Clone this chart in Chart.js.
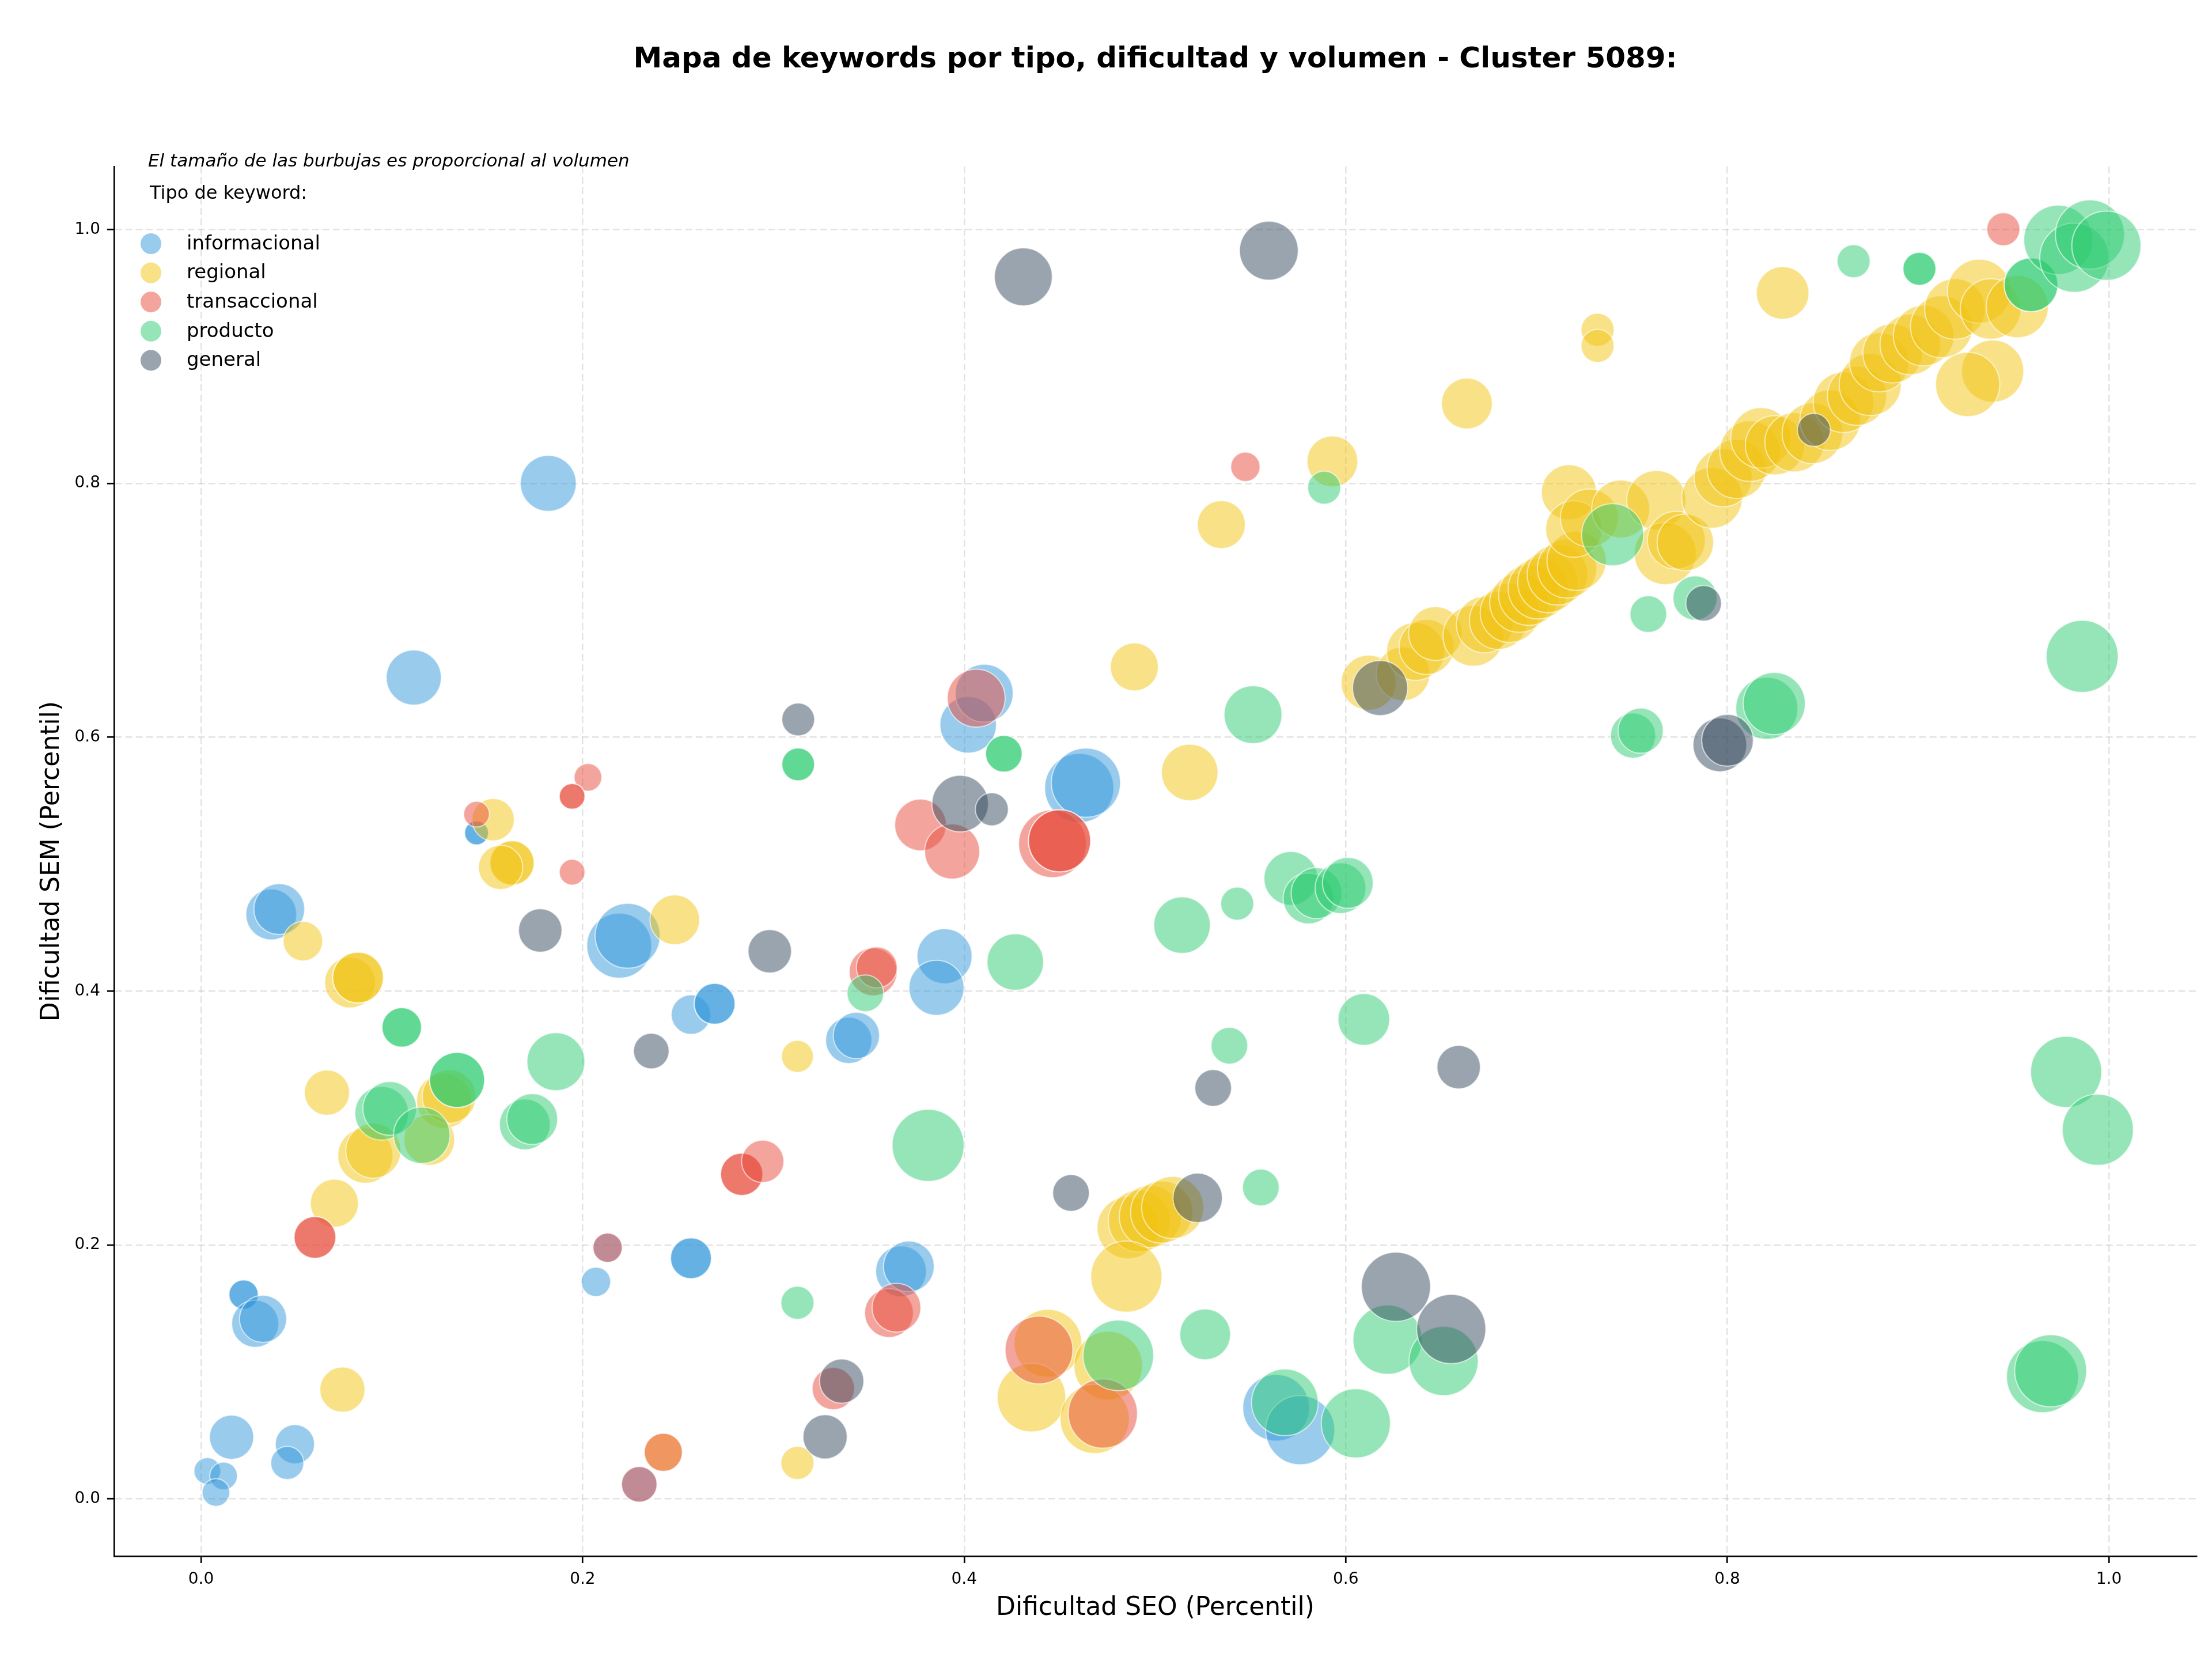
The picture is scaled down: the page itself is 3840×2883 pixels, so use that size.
<!DOCTYPE html>
<html>
<head>
<meta charset="utf-8">
<title>Mapa de keywords - Cluster 5089</title>
<script src="https://cdn.jsdelivr.net/npm/chart.js@4.4.1/dist/chart.umd.min.js"></script>
<style>
  html, body { margin: 0; padding: 0; background: #fff; }
  canvas { display: block; }
</style>
</head>
<body>
<canvas id="grafico" width="3840" height="2883"></canvas>
<script>
// Mapa de keywords: dificultad SEO vs SEM, burbuja = volumen

const titulo = 'Mapa de keywords por tipo, dificultad y volumen - Cluster 5089:';
const nota = 'El tamaño de las burbujas es proporcional al volumen';
const tituloLeyenda = 'Tipo de keyword:';
const ejeX = 'Dificultad SEO (Percentil)';
const ejeY = 'Dificultad SEM (Percentil)';

const tipos = ['informacional', 'regional', 'transaccional', 'producto', 'general'];
const colores = ['#3498db', '#f1c40f', '#e74c3c', '#2ecc71', '#34495e'];

const xTicks = [0.0, 0.2, 0.4, 0.6, 0.8, 1.0];
const yTicks = [0.0, 0.2, 0.4, 0.6, 0.8, 1.0];

// [dificultad SEO, dificultad SEM, volumen]
const informacional = [
    [0.182, 0.800, 3920], [0.1115, 0.647, 3800],
    [0.1444, 0.5246, 720], [0.1444, 0.5246, 720],
    [0.0368, 0.4604, 3240], [0.041, 0.4646, 3240],
    [0.2192, 0.4358, 5290], [0.2236, 0.4436, 5290],
    [0.2568, 0.3815, 1960], [0.2692, 0.390, 2100], [0.2692, 0.390, 2100],
    [0.0223, 0.161, 1080], [0.0223, 0.161, 1080],
    [0.0284, 0.138, 2790], [0.0325, 0.1418, 2790],
    [0.016, 0.0486, 2460], [0.0492, 0.0431, 1930], [0.0452, 0.0283, 1370],
    [0.0033, 0.022, 900], [0.0118, 0.0181, 960], [0.0078, 0.0051, 960],
    [0.207, 0.171, 1080], [0.2131, 0.1979, 1080], [0.2297, 0.0115, 1590],
    [0.2568, 0.1896, 2100], [0.2568, 0.1896, 2100],
    [0.4021, 0.6098, 4000], [0.4105, 0.6347, 4200],
    [0.4603, 0.560, 6000], [0.4638, 0.5642, 6000],
    [0.3897, 0.4275, 3800], [0.3855, 0.4026, 3800],
    [0.3395, 0.3612, 2690], [0.3435, 0.3651, 2690],
    [0.3669, 0.1793, 3240], [0.371, 0.1832, 3240],
    [0.5635, 0.0718, 5570], [0.5761, 0.0542, 6000]
];

const regional = [
    [0.163, 0.501, 2460], [0.163, 0.501, 2460], [0.157, 0.4975, 2460],
    [0.1531, 0.5351, 2250], [0.0534, 0.4394, 1960],
    [0.0781, 0.4068, 3240], [0.0823, 0.4107, 3240], [0.0823, 0.4107, 3240],
    [0.2483, 0.4562, 3100], [0.3126, 0.3486, 1280], [0.066, 0.320, 2560],
    [0.1274, 0.3136, 3800], [0.130, 0.317, 3610],
    [0.0861, 0.2704, 3800], [0.0903, 0.2743, 3800],
    [0.1196, 0.2828, 3240], [0.0699, 0.2329, 2890], [0.0741, 0.0861, 2560],
    [0.2423, 0.0367, 1820], [0.3126, 0.0283, 1370],
    [0.6635, 0.8629, 3240], [0.593, 0.8173, 3240], [0.5348, 0.7675, 2890],
    [0.4892, 0.6554, 2890], [0.5182, 0.5723, 4000], [0.829, 0.950, 3460],
    [0.732, 0.921, 1370], [0.732, 0.9083, 1370],
    [0.4859, 0.2137, 4840], [0.4918, 0.2189, 4840], [0.4976, 0.2225, 4840],
    [0.5035, 0.2259, 4840], [0.5093, 0.2295, 4840],
    [0.485, 0.1751, 6350], [0.4439, 0.1226, 5760], [0.4353, 0.0798, 5900],
    [0.4755, 0.105, 5900], [0.4684, 0.063, 6000],
    [0.612, 0.643, 3800], [0.630, 0.650, 3610], [0.6366, 0.6676, 4200],
    [0.6424, 0.6711, 3800], [0.647, 0.6817, 3610], [0.6669, 0.6799, 4620],
    [0.6728, 0.6887, 4000], [0.680, 0.692, 4200], [0.686, 0.698, 4400],
    [0.691, 0.706, 4400], [0.696, 0.712, 4600], [0.701, 0.717, 4600],
    [0.706, 0.722, 4600], [0.711, 0.728, 4600], [0.716, 0.733, 4400],
    [0.721, 0.739, 4400], [0.717, 0.793, 3800], [0.7196, 0.764, 4000],
    [0.7277, 0.7728, 4200], [0.7441, 0.7798, 4200], [0.7628, 0.7868, 4400],
    [0.7675, 0.7447, 4840], [0.7733, 0.7552, 4200], [0.778, 0.7535, 4000],
    [0.792, 0.7886, 4620], [0.7978, 0.8044, 4200], [0.8049, 0.8114, 4400],
    [0.8119, 0.8254, 4600], [0.8177, 0.8358, 4600], [0.825, 0.830, 4400],
    [0.8352, 0.8324, 4400], [0.8446, 0.8394, 4600], [0.8539, 0.8498, 4600],
    [0.8609, 0.8639, 4600], [0.868, 0.869, 4400], [0.8749, 0.8779, 4840],
    [0.8796, 0.8954, 4400], [0.8866, 0.9024, 4400], [0.8959, 0.9094, 4600],
    [0.9029, 0.9164, 4600], [0.9123, 0.9234, 4840], [0.9193, 0.9374, 4600],
    [0.9321, 0.9514, 5100], [0.938, 0.9374, 4600], [0.952, 0.9392, 4840],
    [0.9391, 0.8884, 4840], [0.926, 0.8779, 5180]
];

const transaccional = [
    [0.2028, 0.5684, 960], [0.1945, 0.5534, 830], [0.1945, 0.5534, 830],
    [0.1444, 0.5394, 830], [0.1945, 0.4937, 830],
    [0.0597, 0.206, 2190], [0.0597, 0.206, 2190],
    [0.2131, 0.1979, 1080], [0.2423, 0.0367, 1820], [0.2297, 0.0115, 1590],
    [0.2834, 0.2557, 2250], [0.2834, 0.2557, 2250], [0.2944, 0.2659, 2250],
    [0.5474, 0.813, 1080], [0.4063, 0.6308, 4200],
    [0.3771, 0.5309, 3350], [0.3937, 0.510, 3800],
    [0.4463, 0.5161, 5760], [0.450, 0.5184, 4840], [0.450, 0.5184, 4840],
    [0.3523, 0.4152, 2890], [0.3542, 0.4187, 2100],
    [0.3606, 0.1464, 2990], [0.3645, 0.1506, 2990], [0.3314, 0.0869, 2250],
    [0.4392, 0.1173, 5760], [0.4727, 0.0672, 6000], [0.9447, 1.0002, 1370]
];

const producto = [
    [0.313, 0.5786, 1350], [0.313, 0.5786, 1350],
    [0.1052, 0.3714, 1960], [0.1052, 0.3714, 1960],
    [0.0947, 0.3038, 3610], [0.0989, 0.3076, 3610],
    [0.1342, 0.330, 3800], [0.1342, 0.330, 3800],
    [0.1157, 0.2865, 4000], [0.1697, 0.295, 3240], [0.1736, 0.2992, 3240],
    [0.186, 0.3444, 4200], [0.3126, 0.1545, 1370], [0.3482, 0.3983, 1690],
    [0.5887, 0.7966, 1370], [0.5514, 0.6178, 4200],
    [0.4208, 0.587, 1690], [0.4208, 0.587, 1690],
    [0.5712, 0.4888, 3610], [0.5431, 0.4689, 1370],
    [0.5805, 0.473, 3240], [0.5847, 0.4772, 3240], [0.5973, 0.4811, 3240], [0.6011, 0.4853, 3240],
    [0.5142, 0.452, 4000], [0.4268, 0.4229, 4000], [0.539, 0.357, 1690],
    [0.6095, 0.3777, 3350], [0.3811, 0.2785, 6500], [0.5555, 0.2453, 1690],
    [0.4808, 0.1131, 6250], [0.5263, 0.1296, 3240], [0.5681, 0.076, 5570],
    [0.6053, 0.0595, 6000], [0.6219, 0.1254, 6000], [0.6513, 0.1086, 6000],
    [0.8662, 0.975, 1370], [0.9007, 0.969, 1370], [0.9007, 0.969, 1370],
    [0.9592, 0.9564, 3610], [0.9592, 0.9564, 3610],
    [0.9735, 0.9918, 6000], [0.9819, 0.9778, 6000], [0.9901, 0.996, 6000], [0.9987, 0.9872, 6000],
    [0.7399, 0.7595, 4840], [0.7586, 0.697, 1690], [0.7831, 0.7097, 2460],
    [0.7506, 0.6013, 2560], [0.7546, 0.6052, 2560],
    [0.8207, 0.6228, 4840], [0.8246, 0.6266, 4840],
    [0.986, 0.6637, 6500], [0.9776, 0.3364, 6350], [0.9942, 0.2908, 6350],
    [0.9652, 0.0963, 6500], [0.9695, 0.1009, 6500]
];

const general = [
    [0.313, 0.614, 1350], [0.1778, 0.4478, 2370], [0.2981, 0.4314, 2370],
    [0.236, 0.3528, 1590], [0.431, 0.9627, 4200], [0.5597, 0.9833, 4330],
    [0.3979, 0.5477, 4000], [0.4145, 0.5432, 1370], [0.618, 0.6388, 3800],
    [0.5305, 0.3237, 1690], [0.6592, 0.3401, 2370], [0.456, 0.241, 1690],
    [0.5224, 0.2371, 3060], [0.3358, 0.0928, 2460], [0.3271, 0.0489, 2460],
    [0.6263, 0.1671, 6000], [0.6553, 0.1338, 6000], [0.8454, 0.8421, 1370],
    [0.7876, 0.7055, 1590], [0.7961, 0.594, 3610], [0.8001, 0.5976, 3350]
];

const series = [informacional, regional, transaccional, producto, general];

const FUENTE = 'DejaVu Sans';
const ESCALA_RADIO = 0.7745; // px por raiz de volumen

function rgba(hex, a) {
    const n = parseInt(hex.slice(1), 16);
    return `rgba(${(n >> 16) & 255}, ${(n >> 8) & 255}, ${n & 255}, ${a})`;
}

// titulo, nota y leyenda dibujados a mano
const textos = {
    id: 'textos',
    afterDraw(chart) {
        const { ctx, chartArea } = chart;
        ctx.save();
        ctx.fillStyle = '#000';
        ctx.textBaseline = 'middle';

        ctx.textAlign = 'center';
        ctx.font = `bold 50px "${FUENTE}"`;
        ctx.fillText(titulo, (chartArea.left + chartArea.right) / 2, 104);

        ctx.textAlign = 'left';
        ctx.font = `italic 31px "${FUENTE}"`;
        ctx.fillText(nota, 257, 281);

        ctx.font = `32px "${FUENTE}"`;
        ctx.fillText(tituloLeyenda, 260, 337);

        ctx.font = `34px "${FUENTE}"`;
        tipos.forEach((t, i) => {
            const y = 423 + i * 50.6;
            ctx.beginPath();
            ctx.arc(262, y, 18, 0, Math.PI * 2);
            ctx.fillStyle = rgba(colores[i], 0.5);
            ctx.fill();
            ctx.fillStyle = '#000';
            ctx.fillText(t, 324, y + 1);
        });
        ctx.restore();
    }
};

const datasets = series.map((pts, i) => ({
    label: tipos[i],
    data: pts.map(([x, y, v]) => ({ x, y, r: Math.sqrt(v) * ESCALA_RADIO })),
    backgroundColor: rgba(colores[i], 0.5),
    borderColor: 'rgba(255, 255, 255, 0.6)',
    borderWidth: 2,
    order: tipos.length - i
}));

const ejeComun = (ticks, title, extra) => ({
    type: 'linear',
    afterBuildTicks: s => { s.ticks = ticks.map(v => ({ value: v })); },
    ticks: {
        callback: v => Number(v).toFixed(1),
        font: { family: FUENTE, size: 28 },
        color: '#000',
        padding: 12,
        maxRotation: 0,
        autoSkip: false
    },
    grid: {
        color: 'rgba(176, 176, 176, 0.35)',
        lineWidth: 2.5,
        tickColor: '#000',
        tickWidth: 2.7,
        tickLength: 12,
        tickBorderDash: []
    },
    border: { display: true, color: '#000', width: 2.7, dash: [12, 6] },
    title: {
        display: true,
        text: title,
        color: '#000',
        font: { family: FUENTE, size: 44 },
        padding: extra.titlePadding
    },
    ...extra.limites
});

new Chart(document.getElementById('grafico'), {
    type: 'bubble',
    data: { datasets },
    options: {
        responsive: false,
        animation: false,
        events: [],
        layout: { autoPadding: false, padding: { top: 289, right: 27, bottom: 0, left: 0 } },
        scales: {
            x: {
                ...ejeComun(xTicks, ejeX, {
                    titlePadding: { top: 0, bottom: 65 },
                    limites: { min: -0.0456, max: 1.0459 }
                }),
                position: 'bottom',
                afterFit: s => { s.height = 182; }
            },
            y: {
                ...ejeComun(yTicks, ejeY, {
                    titlePadding: { top: 64, bottom: 0 },
                    limites: { min: -0.0451, max: 1.0496 }
                }),
                position: 'left',
                afterFit: s => { s.width = 198; }
            }
        },
        plugins: {
            legend: { display: false },
            tooltip: { enabled: false },
            title: { display: false }
        }
    },
    plugins: [textos]
});
</script>
</body>
</html>
